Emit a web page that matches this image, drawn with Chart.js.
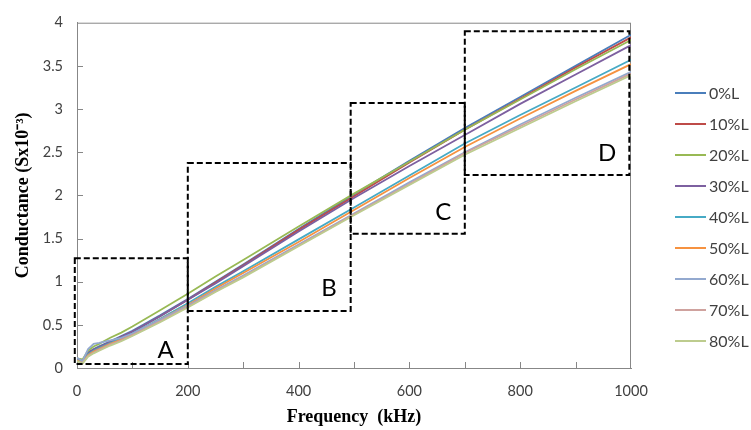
<!DOCTYPE html>
<html>
<head>
<meta charset="utf-8">
<script src="https://cdn.jsdelivr.net/npm/chart.js@4.4.0/dist/chart.umd.min.js"></script>
<style>
  html, body { margin: 0; padding: 0; background: #fff; }
</style>
</head>
<body>
<canvas id="chart" width="751" height="430"></canvas>
<script>
// frequency points (kHz)
const freq = [0, 10, 20, 30, 40, 60, 80, 100, 150, 200, 250, 300, 400, 500, 600, 700, 800, 900, 1000];

const seriesNames = ["0%L", "10%L", "20%L", "30%L", "40%L", "50%L", "60%L", "70%L", "80%L"];
const seriesColors = ["#4A7EBB", "#BE4B48", "#98B954", "#7D60A0", "#46AAC5", "#F69240", "#93A9CF", "#CFA29E", "#BDCC8E"];

// conductance (S x 10^-3)
const l0  = [0.10, 0.07, 0.18, 0.22, 0.25, 0.31, 0.37, 0.43, 0.61, 0.80, 1.00, 1.20, 1.61, 2.01, 2.40, 2.78, 3.14, 3.50, 3.86];
const l10 = [0.09, 0.07, 0.17, 0.21, 0.24, 0.30, 0.36, 0.42, 0.60, 0.79, 0.99, 1.19, 1.60, 1.99, 2.38, 2.76, 3.12, 3.48, 3.83];
const l20 = [0.11, 0.10, 0.20, 0.25, 0.28, 0.35, 0.41, 0.48, 0.67, 0.86, 1.06, 1.25, 1.64, 2.02, 2.39, 2.76, 3.11, 3.46, 3.80];
const l30 = [0.10, 0.08, 0.17, 0.21, 0.24, 0.30, 0.36, 0.42, 0.60, 0.79, 0.98, 1.18, 1.58, 1.97, 2.34, 2.70, 3.06, 3.40, 3.74];
const l40 = [0.09, 0.07, 0.16, 0.20, 0.23, 0.29, 0.34, 0.40, 0.57, 0.75, 0.94, 1.12, 1.49, 1.86, 2.23, 2.60, 2.93, 3.25, 3.57];
const l50 = [0.09, 0.06, 0.15, 0.19, 0.22, 0.28, 0.33, 0.39, 0.56, 0.73, 0.92, 1.10, 1.46, 1.83, 2.20, 2.56, 2.89, 3.21, 3.52];
const l60 = [0.12, 0.08, 0.22, 0.28, 0.29, 0.32, 0.35, 0.40, 0.56, 0.72, 0.90, 1.07, 1.43, 1.79, 2.15, 2.50, 2.82, 3.13, 3.43];
const l70 = [0.08, 0.06, 0.14, 0.18, 0.21, 0.27, 0.32, 0.38, 0.54, 0.71, 0.89, 1.06, 1.42, 1.78, 2.13, 2.49, 2.80, 3.11, 3.41];
const l80 = [0.08, 0.05, 0.13, 0.17, 0.20, 0.26, 0.31, 0.37, 0.53, 0.70, 0.88, 1.05, 1.41, 1.77, 2.12, 2.47, 2.78, 3.09, 3.39];
const seriesValues = [l0, l10, l20, l30, l40, l50, l60, l70, l80];

// dashed regions, in axis units
const boxNames  = ["A", "B", "C", "D"];
const boxLeft   = [-4, 200, 494, 700];
const boxRight  = [200, 494, 700, 997];
const boxBottom = [0.045, 0.66, 1.555, 2.235];
const boxTop    = [1.27, 2.375, 3.07, 3.90];
const boxTagX   = [160, 455, 661, 957];
const boxTagY   = [0.20, 0.92, 1.80, 2.49];

const tickFont = { family: "Lato, 'Open Sans', sans-serif", size: 14.5 };
const titleFont = { family: "'Liberation Serif', 'Times New Roman', serif", size: 18, weight: "bold" };
const axisGray = "#878787";

/* ===== plot frame + inside tick marks ===== */
const framePlugin = {
  id: "frame",
  beforeDatasetsDraw(chart) {
    const { ctx, chartArea: a, scales: { x, y } } = chart;
    ctx.save();
    ctx.strokeStyle = axisGray;
    ctx.lineWidth = 1;
    ctx.strokeRect(a.left + 0.5, a.top + 0.5, a.right - a.left - 1, a.bottom - a.top);
    ctx.beginPath();
    x.ticks.forEach(t => {
      if (t.value <= x.min || t.value >= x.max) return;
      const px = Math.round(x.getPixelForValue(t.value)) + 0.5;
      ctx.moveTo(px, a.bottom);
      ctx.lineTo(px, a.bottom - 6);
    });
    y.ticks.forEach(t => {
      if (t.value <= y.min || t.value >= y.max) return;
      const py = Math.round(y.getPixelForValue(t.value)) + 0.5;
      ctx.moveTo(a.left, py);
      ctx.lineTo(a.left + 6, py);
    });
    ctx.stroke();
    ctx.restore();
  }
};

/* ===== dashed boxes A-D ===== */
const boxPlugin = {
  id: "boxes",
  afterDatasetsDraw(chart) {
    const { ctx, scales: { x, y } } = chart;
    ctx.save();
    ctx.strokeStyle = "#000";
    ctx.lineWidth = 2;
    ctx.setLineDash([6, 3]);
    boxNames.forEach((name, i) => {
      const x0 = x.getPixelForValue(boxLeft[i]);
      const x1 = x.getPixelForValue(boxRight[i]);
      const y0 = y.getPixelForValue(boxTop[i]);
      const y1 = y.getPixelForValue(boxBottom[i]);
      ctx.strokeRect(x0, y0, x1 - x0, y1 - y0);
    });
    ctx.setLineDash([]);
    ctx.fillStyle = "#000";
    ctx.font = "24px Lato, 'Open Sans', sans-serif";
    ctx.textAlign = "center";
    ctx.textBaseline = "middle";
    boxNames.forEach((name, i) => {
      ctx.fillText(name, x.getPixelForValue(boxTagX[i]), y.getPixelForValue(boxTagY[i]));
    });
    ctx.restore();
  }
};

/* ===== legend on the right ===== */
const sideLegend = {
  id: "sideLegend",
  afterDraw(chart) {
    const { ctx } = chart;
    ctx.save();
    ctx.font = "16px Lato, 'Open Sans', sans-serif";
    ctx.textBaseline = "middle";
    ctx.fillStyle = "#404040";
    chart.data.datasets.forEach((ds, i) => {
      const yy = 93 + i * 31;
      ctx.strokeStyle = ds.borderColor;
      ctx.lineWidth = 2;
      ctx.beginPath();
      ctx.moveTo(675, yy);
      ctx.lineTo(706, yy);
      ctx.stroke();
      ctx.fillText(ds.label, 709, yy + 1);
    });
    ctx.restore();
  }
};

new Chart(document.getElementById("chart"), {
  type: "line",
  data: {
    datasets: seriesNames.map((name, i) => ({
      label: name,
      data: freq.map((f, k) => ({ x: f, y: seriesValues[i][k] })),
      borderColor: seriesColors[i],
      borderWidth: 1.8,
      pointRadius: 0,
      tension: 0,
      order: seriesNames.length - 1 - i
    }))
  },
  options: {
    responsive: false,
    animation: false,
    layout: { padding: { top: 15, right: 120, left: 0, bottom: 0 } },
    plugins: {
      legend: { display: false },
      tooltip: { enabled: false }
    },
    scales: {
      x: {
        type: "linear",
        min: 0,
        max: 1000,
        afterFit: s => { s.height = 62; },
        grid: { display: false, drawTicks: false },
        border: { display: true, color: axisGray, width: 1 },
        ticks: {
          stepSize: 100,
          padding: 15,
          color: "#404040",
          font: tickFont,
          maxRotation: 0,
          autoSkip: false,
          callback: v => (v % 200 === 0 ? String(v) : "")
        },
        title: {
          display: true,
          text: "Frequency  (kHz)",
          color: "#000",
          font: titleFont,
          padding: { top: 0, bottom: 2 }
        }
      },
      y: {
        min: 0,
        max: 4,
        afterFit: s => { s.width = 77; },
        grid: { display: false, drawTicks: false },
        border: { display: true, color: axisGray, width: 1 },
        ticks: {
          stepSize: 0.5,
          padding: 14,
          color: "#404040",
          font: tickFont,
          callback: v => String(v)
        },
        title: {
          display: true,
          text: "Conductance (Sx10\u207B\u00B3)",
          color: "#000",
          font: titleFont,
          padding: { top: 13, bottom: 0 }
        }
      }
    }
  },
  plugins: [framePlugin, boxPlugin, sideLegend]
});
</script>
</body>
</html>
